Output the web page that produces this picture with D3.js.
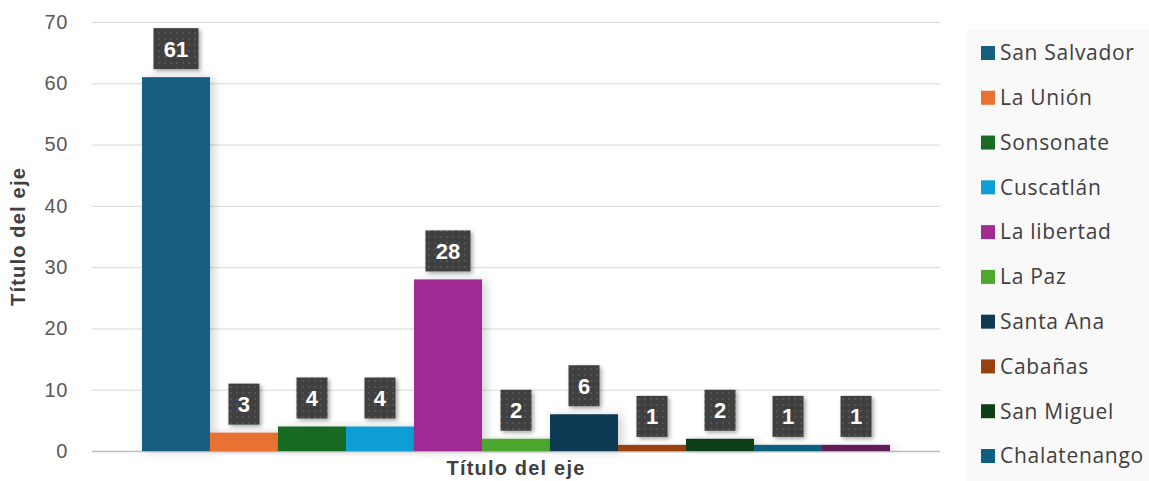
<!DOCTYPE html>
<html>
<head>
<meta charset="utf-8">
<script src="https://cdn.jsdelivr.net/npm/d3@7"></script>
<style>
  html, body { margin: 0; padding: 0; background: #ffffff; }
  svg { display: block; }
</style>
</head>
<body>
<svg id="chart" width="1149" height="481"></svg>
<script>
// ---- Data ----
const categories = ["Título del eje"];
const seriesNames = ["San Salvador", "La Unión", "Sonsonate", "Cuscatlán", "La libertad", "La Paz", "Santa Ana", "Cabañas", "San Miguel", "Chalatenango", "Serie 11"];
const seriesValues = [61, 3, 4, 4, 28, 2, 6, 1, 2, 1, 1];
const seriesColors = ["#175E80", "#E97132", "#196B24", "#0F9ED5", "#A02B93", "#4EA72E", "#0E3A52", "#994011", "#0F3F17", "#0D5E82", "#601A58"];
const legendCount = 10; // the legend box only shows the first 10 entries
const yTicks = [0, 10, 20, 30, 40, 50, 60, 70];
const axisTitleY = "Título del eje";
const axisTitleX = "Título del eje";

// ---- Layout ----
const svg = d3.select("#chart");
const plot = { left: 92, right: 940, top: 22, bottom: 451 };

const x0 = d3.scaleBand().domain(categories).range([plot.left, plot.right]).paddingInner(0).paddingOuter(0.0668);
const x1 = d3.scaleBand().domain(seriesNames).range([0, x0.bandwidth()]).padding(0);
const y = d3.scaleLinear().domain([0, 70]).range([plot.bottom, plot.top]);

const defs = svg.append("defs");
const shadow = defs.append("filter").attr("id", "barShadow").attr("x", "-20%").attr("y", "-20%").attr("width", "160%").attr("height", "140%");
shadow.append("feDropShadow").attr("dx", 4).attr("dy", 1).attr("stdDeviation", 5).attr("flood-color", "#000").attr("flood-opacity", 0.18);
const lshadow = defs.append("filter").attr("id", "lblShadow").attr("x", "-30%").attr("y", "-30%").attr("width", "170%").attr("height", "170%");
lshadow.append("feDropShadow").attr("dx", 2).attr("dy", 2).attr("stdDeviation", 2).attr("flood-color", "#000").attr("flood-opacity", 0.35);
const pat = defs.append("pattern").attr("id", "dots").attr("width", 6).attr("height", 6).attr("patternUnits", "userSpaceOnUse");
pat.append("rect").attr("width", 6).attr("height", 6).attr("fill", "#404040");
pat.append("circle").attr("cx", 3).attr("cy", 3).attr("r", 0.9).attr("fill", "#5a5a5a");

// Gridlines
const yAxis = d3.axisLeft(y).tickValues(yTicks).tickSize(-(plot.right - plot.left)).tickPadding(24).tickFormat(d3.format("d"));
const gy = svg.append("g").attr("transform", `translate(${plot.left},0)`).call(yAxis);
gy.select(".domain").remove();
gy.selectAll(".tick line").attr("stroke", d => d === 0 ? "#bfbfbf" : "#d9d9d9").attr("stroke-width", d => d === 0 ? 1.5 : 1);
gy.selectAll(".tick text").attr("fill", "#595959").style("font-family", "'Liberation Sans', Arial, sans-serif").style("font-size", "20px").style("letter-spacing", "0.6px");

// Bars
const barsG = svg.append("g");
barsG.selectAll("rect").data(seriesValues).join("rect")
  .attr("x", (d, i) => x0(categories[0]) + x1(seriesNames[i]))
  .attr("y", d => y(d))
  .attr("width", x1.bandwidth())
  .attr("height", d => y(0) - y(d))
  .attr("fill", (d, i) => seriesColors[i])
  .attr("filter", "url(#barShadow)");

// Data labels
const lblG = svg.append("g");
seriesValues.forEach((v, i) => {
  const cx = x0(categories[0]) + x1(seriesNames[i]) + x1.bandwidth() / 2;
  const txt = String(v);
  const w = txt.length > 1 ? 45 : 31;
  const h = 41;
  const bottom = y(v) - 8;
  const g = lblG.append("g");
  g.append("rect").attr("x", cx - w / 2).attr("y", bottom - h).attr("width", w).attr("height", h)
    .attr("fill", "url(#dots)").attr("filter", "url(#lblShadow)");
  g.append("text").attr("x", cx).attr("y", bottom - h / 2).attr("dy", "0.36em")
    .attr("text-anchor", "middle").attr("fill", "#ffffff")
    .style("font-family", "'Liberation Sans', Arial, sans-serif").style("font-weight", "bold").style("font-size", "22px")
    .text(txt);
});

// Axis titles
const titleStyle = sel => sel.attr("text-anchor", "middle").attr("fill", "#404040")
  .style("font-family", "'Liberation Sans', Arial, sans-serif").style("font-weight", "bold")
  .style("font-size", "20px").style("letter-spacing", "1.2px");
svg.append("text").attr("transform", `translate(25,${(plot.top + plot.bottom) / 2}) rotate(-90)`)
  .call(titleStyle).text(axisTitleY);
svg.append("text").attr("x", x0(categories[0]) + x0.bandwidth() / 2).attr("y", 475)
  .call(titleStyle).text(axisTitleX);

// Legend
const legend = svg.append("g");
legend.append("rect").attr("x", 967).attr("y", 29).attr("width", 182).attr("height", 452).attr("fill", "#f9f9f9");
const ly = d3.scalePoint().domain(seriesNames.slice(0, legendCount)).range([53, 456]);
const items = legend.selectAll("g.item").data(seriesNames.slice(0, legendCount)).join("g").attr("class", "item")
  .attr("transform", d => `translate(981,${ly(d)})`);
items.append("rect").attr("x", 0).attr("y", -7).attr("width", 14).attr("height", 14)
  .attr("fill", (d, i) => seriesColors[i]);
items.append("text").attr("x", 19).attr("dy", "0.35em").attr("fill", "#404040")
  .style("font-family", "'Open Sans', 'Noto Sans', sans-serif").style("font-size", "21px").style("letter-spacing", "0.7px")
  .text(d => d);
</script>
</body>
</html>
